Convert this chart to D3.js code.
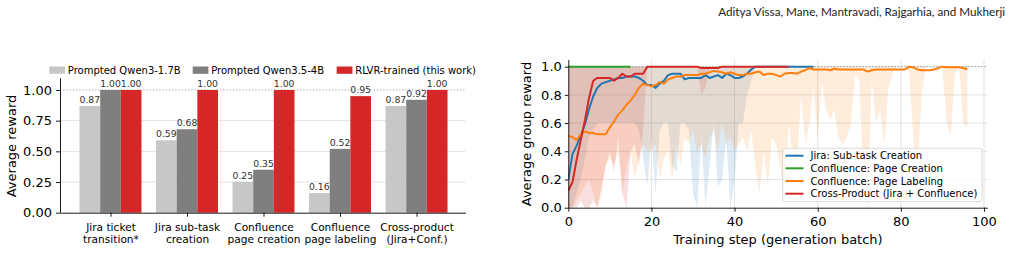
<!DOCTYPE html>
<html lang="en">
<head>
<meta charset="utf-8">
<title>Average reward: prompted baselines vs RLVR training</title>
<script src="https://d3js.org/d3.v7.min.js"></script>
<style>
  body { margin: 0; background: #fff; }
  svg text { font-family: "DejaVu Sans", sans-serif; fill: #000; }
  .tick line { stroke: #000; stroke-width: 0.9; }
  .domain { stroke: #000; stroke-width: 0.9; }
</style>
</head>
<body>
<script>

// ---- left panel data (bar chart)
var categories = [["Jira ticket", "transition*"], ["Jira sub-task", "creation"], ["Confluence", "page creation"], ["Confluence", "page labeling"], ["Cross-product", "(Jira+Conf.)"]];
var barNames = ["Prompted Qwen3-1.7B", "Prompted Qwen3.5-4B", "RLVR-trained (this work)"];
var qwen17 = [0.87, 0.59, 0.25, 0.16, 0.87];
var qwen4 = [1.00, 0.68, 0.35, 0.52, 0.92];
var rlvr = [1.00, 1.00, 1.00, 0.95, 1.00];
var barTicks = [0, 0.25, 0.5, 0.75, 1.0];

// ---- right panel data (training curves), index = training step
var lineNames = ["Jira: Sub-task Creation", "Confluence: Page Creation", "Confluence: Page Labeling", "Cross-Product (Jira + Confluence)"];
var jiraMean = [0.20, 0.38, 0.44, 0.51, 0.59, 0.70, 0.79, 0.85, 0.88, 0.89, 0.90, 0.91, 0.92, 0.92, 0.93, 0.93, 0.93, 0.92, 0.90, 0.87,
  0.87, 0.85, 0.88, 0.90, 0.94, 0.95, 0.95, 0.95, 0.91, 0.92, 0.92, 0.92, 0.92, 0.94, 0.92, 0.93, 0.94, 0.92, 0.95, 0.94,
  0.92, 0.92, 0.93, 0.95, 0.98, 1.00, 1.00, 1.00, 1.00, 1.00, 1.00, 1.00, 1.00, 1.00, 1.00, 1.00, 1.00, 1.00, 1.00, 1.00];
var jiraLow = [0.00, 0.00, 0.10, 0.20, 0.35, 0.50, 0.55, 0.60, 0.60, 0.60, 0.60, 0.60, 0.60, 0.60, 0.60, 0.60, 0.60, 0.55, 0.35, 0.15,
  0.50, 0.10, 0.55, 0.60, 0.60, 0.30, 0.25, 0.60, 0.60, 0.55, 0.10, 0.00, 0.50, 0.00, 0.30, 0.60, 0.15, 0.20, 0.50, 0.00,
  0.20, 0.60, 0.60, 0.80, 0.90, 1.00, 1.00, 1.00, 1.00, 1.00, 1.00, 1.00, 1.00, 1.00, 1.00, 1.00, 1.00, 1.00, 1.00, 1.00];
var pageCreateMean = [1.00, 1.00, 1.00, 1.00, 1.00, 1.00, 1.00, 1.00, 1.00, 1.00, 1.00, 1.00, 1.00, 1.00, 1.00, 1.00];
var labelMean = [0.51, 0.50, 0.48, 0.52, 0.54, 0.53, 0.53, 0.52, 0.52, 0.52, 0.57, 0.61, 0.66, 0.69, 0.73, 0.76, 0.80, 0.85, 0.88, 0.87,
  0.86, 0.87, 0.89, 0.88, 0.91, 0.92, 0.93, 0.93, 0.94, 0.94, 0.94, 0.94, 0.95, 0.95, 0.96, 0.97, 0.965, 0.96, 0.95, 0.96,
  0.95, 0.94, 0.94, 0.95, 0.95, 0.96, 0.965, 0.94, 0.95, 0.95, 0.94, 0.93, 0.95, 0.955, 0.955, 0.95, 0.965, 0.975, 0.99, 0.98,
  0.98, 0.98, 0.98, 0.975, 0.985, 0.98, 0.98, 0.98, 0.98, 0.98, 0.98, 0.98, 0.965, 0.975, 0.98, 0.98, 0.98, 0.98, 0.98, 0.98,
  0.98, 0.98, 1.00, 0.995, 0.98, 0.975, 0.975, 0.975, 0.98, 0.99, 1.00, 0.995, 0.995, 0.995, 0.995, 0.99, 0.98];
var labelLow = [0.00, 0.00, 0.05, 0.10, 0.15, 0.20, 0.10, 0.00, 0.10, 0.30, 0.35, 0.30, 0.40, 0.10, 0.30, 0.40, 0.20, 0.35, 0.45, 0.40,
  0.40, 0.45, 0.20, 0.35, 0.40, 0.20, 0.45, 0.30, 0.50, 0.45, 0.55, 0.40, 0.45, 0.35, 0.50, 0.55, 0.40, 0.60, 0.45, 0.50,
  0.40, 0.45, 0.50, 0.40, 0.55, 0.30, 0.10, 0.40, 0.15, 0.50, 0.45, 0.30, 0.05, 0.60, 0.35, 0.30, 0.80, 0.45, 0.60, 0.85,
  0.50, 0.90, 0.70, 0.62, 0.70, 0.50, 0.45, 0.50, 0.60, 0.95, 0.90, 0.20, 0.00, 0.90, 0.60, 0.70, 0.45, 0.85, 0.95, 1.00,
  1.00, 1.00, 0.95, 0.50, 0.25, 0.80, 1.00, 1.00, 1.00, 1.00, 1.00, 0.60, 0.50, 0.95, 1.00, 0.60, 0.57];
var crossMean = [0.12, 0.18, 0.34, 0.48, 0.62, 0.78, 0.90, 0.92, 0.92, 0.92, 0.92, 0.90, 0.92, 0.95, 0.93, 0.93, 0.95, 0.95, 0.95, 1.00,
  1.00, 1.00, 1.00, 1.00, 1.00, 1.00, 1.00, 1.00, 1.00, 1.00, 1.00, 1.00, 0.99, 0.99, 0.99, 0.99, 0.99, 1.00, 1.00, 1.00,
  1.00, 1.00, 1.00, 1.00, 1.00, 1.00, 1.00, 1.00, 1.00, 1.00, 1.00, 1.00, 1.00, 1.00];
var crossLow = [0.00, 0.00, 0.00, 0.05, 0.00, 0.00, 0.05, 0.00, 0.15, 0.30, 0.40, 0.25, 0.50, 0.10, 0.00, 0.40, 0.45, 0.30, 0.55, 1.00,
  1.00, 1.00, 1.00, 1.00, 1.00, 1.00, 1.00, 1.00, 1.00, 1.00, 1.00, 1.00, 0.80, 0.85, 1.00, 1.00, 1.00, 1.00, 1.00, 1.00,
  1.00, 1.00, 1.00, 1.00, 1.00, 1.00, 1.00, 1.00, 1.00, 1.00, 1.00, 1.00, 1.00, 1.00];
var bandHigh = 1.0;
var stepTicks = [0, 20, 40, 60, 80, 100];
var rewardTicks = [0, 0.2, 0.4, 0.6, 0.8, 1.0];

var barColors = ["#c7c7c7", "#7f7f7f", "#d62728"];
var lineColors = ["#1f77b4", "#2ca02c", "#ff7f0e", "#d62728"];

var svg = d3.select("body").append("svg")
  .attr("width", 1011)
  .attr("height", 254);

// running header
svg.append("text")
  .attr("x", 1005)
  .attr("y", 16)
  .attr("text-anchor", "end")
  .style("font-family", "Lato, 'Noto Sans', sans-serif")
  .style("font-size", "11.7px")
  .style("fill", "#222")
  .text("Aditya Vissa, Mane, Mantravadi, Rajgarhia, and Mukherji");

// ================= left panel =================
var bx = d3.scaleLinear().domain([-0.66, 4.64]).range([60, 465.5]);
var by = d3.scaleLinear().domain([0, 1.1]).range([212.7, 77.7]);
var bw = bx(0.27) - bx(0);

var left = svg.append("g");

// grid
left.selectAll(".grid")
  .data([0.25, 0.5, 0.75])
  .enter().append("line")
  .attr("x1", bx.range()[0]).attr("x2", bx.range()[1])
  .attr("y1", function(d) { return by(d); })
  .attr("y2", function(d) { return by(d); })
  .attr("stroke", "#e3e3e3")
  .attr("stroke-width", 1);

left.append("line")
  .attr("x1", bx.range()[0]).attr("x2", bx.range()[1])
  .attr("y1", by(1)).attr("y2", by(1))
  .attr("stroke", "#999")
  .attr("stroke-dasharray", "1.2,2")
  .attr("stroke-width", 1);

var barSets = [qwen17, qwen4, rlvr];
barSets.forEach(function(vals, k) {
  var off = (k - 1) * 0.27;
  left.selectAll(".bar" + k)
    .data(vals)
    .enter().append("rect")
    .attr("x", function(d, i) { return bx(i + off) - bw / 2; })
    .attr("y", function(d) { return by(d); })
    .attr("width", bw)
    .attr("height", function(d) { return by(0) - by(d); })
    .attr("fill", barColors[k]);

  left.selectAll(".lab" + k)
    .data(vals)
    .enter().append("text")
    .attr("x", function(d, i) { return bx(i + off); })
    .attr("y", function(d) { return by(d) - 3; })
    .attr("text-anchor", "middle")
    .style("font-size", "9.3px")
    .style("fill", "#333")
    .text(function(d) { return d.toFixed(2); });
});

// axes
left.append("g")
  .attr("transform", "translate(" + bx.range()[0] + ",0)")
  .call(d3.axisLeft(by).tickValues(barTicks).tickFormat(d3.format(".2f")).tickSize(4).tickPadding(4).tickSizeOuter(0))
  .selectAll("text").style("font-size", "13px");

var bAxis = left.append("g")
  .attr("transform", "translate(0," + by(0) + ")")
  .call(d3.axisBottom(bx).tickValues([0, 1, 2, 3, 4]).tickFormat("").tickSize(4).tickSizeOuter(0));

bAxis.selectAll(".tick").each(function(d) {
  var t = d3.select(this).append("text")
    .attr("text-anchor", "middle")
    .style("font-size", "10.6px");
  categories[d].forEach(function(line, j) {
    t.append("tspan").attr("x", 0).attr("y", 18.3 + j * 12.3).text(line);
  });
});

left.append("text")
  .attr("transform", "translate(15.5,146) rotate(-90)")
  .attr("text-anchor", "middle")
  .style("font-size", "13px")
  .text("Average reward");

// legend
var legX = [49.3, 192.7, 336.7];
barNames.forEach(function(name, k) {
  left.append("rect")
    .attr("x", legX[k]).attr("y", 66.5)
    .attr("width", 15.7).attr("height", 7.3)
    .attr("fill", barColors[k]);
  left.append("text")
    .attr("x", legX[k] + 18.5).attr("y", 74)
    .style("font-size", "10px")
    .text(name);
});

// ================= right panel =================
var rx = d3.scaleLinear().domain([0, 100.8]).range([568.3, 987.3]);
var ry = d3.scaleLinear().domain([0, 1.05]).range([207.7, 59.6]);

var right = svg.append("g");

right.selectAll(".hgrid")
  .data(rewardTicks.slice(1))
  .enter().append("line")
  .attr("x1", rx.range()[0]).attr("x2", rx.range()[1])
  .attr("y1", function(d) { return ry(d); })
  .attr("y2", function(d) { return ry(d); })
  .attr("stroke", "#e3e3e3");

right.selectAll(".vgrid")
  .data(stepTicks.slice(1))
  .enter().append("line")
  .attr("x1", function(d) { return rx(d); })
  .attr("x2", function(d) { return rx(d); })
  .attr("y1", ry.range()[0]).attr("y2", ry.range()[1])
  .attr("stroke", "#e3e3e3");

var clip = svg.append("clipPath").attr("id", "plotClip")
  .append("rect")
  .attr("x", rx.range()[0]).attr("y", ry.range()[1])
  .attr("width", rx.range()[1] - rx.range()[0])
  .attr("height", ry.range()[0] - ry.range()[1]);

var plot = right.append("g").attr("clip-path", "url(#plotClip)");

var band = d3.area()
  .x(function(d, i) { return rx(i); })
  .y0(function(d) { return ry(d); })
  .y1(ry(bandHigh));

var bands = [[jiraLow, 0], [labelLow, 2], [crossLow, 3]];
bands.forEach(function(b) {
  plot.append("path")
    .datum(b[0])
    .attr("d", band)
    .attr("fill", lineColors[b[1]])
    .attr("fill-opacity", 0.15);
});

plot.append("line")
  .attr("x1", rx.range()[0]).attr("x2", rx.range()[1])
  .attr("y1", ry(1)).attr("y2", ry(1))
  .attr("stroke", "#999")
  .attr("stroke-dasharray", "1.2,2");

var line = d3.line()
  .x(function(d, i) { return rx(i); })
  .y(function(d) { return ry(d); });

[jiraMean, pageCreateMean, labelMean, crossMean].forEach(function(vals, k) {
  plot.append("path")
    .datum(vals)
    .attr("d", line)
    .attr("fill", "none")
    .attr("stroke", lineColors[k])
    .attr("stroke-width", 2)
    .attr("stroke-linejoin", "round");
});

right.append("g")
  .attr("transform", "translate(" + rx.range()[0] + ",0)")
  .call(d3.axisLeft(ry).tickValues(rewardTicks).tickFormat(d3.format(".1f")).tickSize(3.5).tickPadding(3).tickSizeOuter(0))
  .selectAll("text").style("font-size", "13px");

right.append("g")
  .attr("transform", "translate(0," + ry(0) + ")")
  .call(d3.axisBottom(rx).tickValues(stepTicks).tickFormat(d3.format("d")).tickSize(4).tickPadding(5).tickSizeOuter(0))
  .selectAll("text").style("font-size", "13px");

right.append("text")
  .attr("x", 778).attr("y", 244)
  .attr("text-anchor", "middle")
  .style("font-size", "13px")
  .text("Training step (generation batch)");

right.append("text")
  .attr("transform", "translate(530.5,134) rotate(-90)")
  .attr("text-anchor", "middle")
  .style("font-size", "13px")
  .text("Average group reward");

// legend box
var lg = right.append("g");
lg.append("rect")
  .attr("x", 782.7).attr("y", 148.3)
  .attr("width", 199.3).attr("height", 53.4)
  .attr("rx", 2.5)
  .attr("fill", "#fff").attr("fill-opacity", 0.8)
  .attr("stroke", "#d0d0d0").attr("stroke-width", 0.8);
var legY = [155.7, 168.3, 181, 193.7];
lineNames.forEach(function(name, k) {
  lg.append("line")
    .attr("x1", 785.5).attr("x2", 803.5)
    .attr("y1", legY[k]).attr("y2", legY[k])
    .attr("stroke", lineColors[k]).attr("stroke-width", 2);
  lg.append("text")
    .attr("x", 810.5).attr("y", legY[k] + 3.6)
    .style("font-size", "10px")
    .text(name);
});

</script>
</body>
</html>
